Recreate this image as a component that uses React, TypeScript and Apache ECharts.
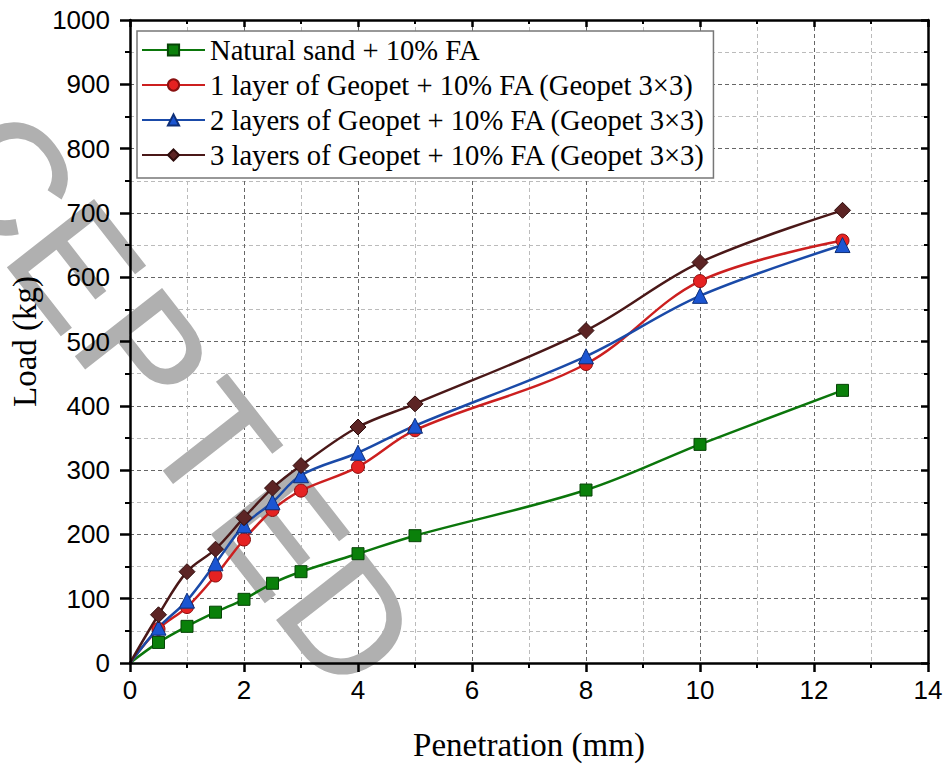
import React, { useEffect, useRef } from "react";
import * as echarts from "echarts";

const penetration = [0, 0.5, 1, 1.5, 2, 2.5, 3, 4, 5, 8, 10, 12.5];
const naturalSand = [0, 32, 57, 79, 99, 124, 142, 170, 198, 269, 340, 424];
const oneLayer = [0, 53, 87, 136, 192, 238, 268, 305, 362, 465, 594, 657];
const twoLayers = [0, 55, 97, 155, 214, 250, 292, 327, 369, 477, 571, 650];
const threeLayers = [0, 75, 142, 177, 226, 272, 307, 367, 403, 517, 623, 704];

const seriesNames = [
  "Natural sand + 10% FA",
  "1 layer of Geopet + 10% FA (Geopet 3×3)",
  "2 layers of Geopet + 10% FA (Geopet 3×3)",
  "3 layers of Geopet + 10% FA (Geopet 3×3)",
];
const xAxisTitle = "Penetration (mm)";
const yAxisTitle = "Load (kg)";
const watermarkLetters = ["C", "E", "P", "T", "E", "D"];

export default function App() {
  const ref = useRef<HTMLDivElement>(null);
  useEffect(() => {
    if (!ref.current) return;
    const chart = echarts.init(ref.current, undefined, { renderer: "svg" });
    const mk = (
      name: string,
      vals: number[],
      color: string,
      markColor: string,
      border: string,
      symbol: string,
      size: number
    ) => ({
      name,
      type: "line",
      smooth: 0.35,
      z: 2,
      data: penetration.map((x, i) => [x, vals[i]]),
      symbol,
      symbolSize: (_v: any, p: any) => (p && p.dataIndex === 0 ? 0 : size),
      lineStyle: { color, width: 2.5 },
      itemStyle: { color: markColor, borderColor: border, borderWidth: 1 },
      xAxisIndex: 0,
      yAxisIndex: 0,
    });
    const labelFont = { fontFamily: "Liberation Sans", fontSize: 26, color: "#000" };
    const black = { color: "#000", width: 2.5 };

    // watermark: letters laid along a diagonal (start point, step per letter)
    const wmStart = [8, 176];
    const wmStep = [68, 89];
    const wmRot = (-52 * Math.PI) / 180;
    const graphic = watermarkLetters.map((ch, i) => ({
      type: "text",
      x: wmStart[0] + wmStep[0] * i,
      y: wmStart[1] + wmStep[1] * i,
      rotation: wmRot,
      z: 1,
      silent: true,
      style: {
        text: ch,
        fontSize: 158,
        fontFamily: "Liberation Sans",
        fill: "#b0b0b0",
        stroke: "#b0b0b0",
        lineWidth: 2,
        textAlign: "center",
        textVerticalAlign: "middle",
        align: "center",
        verticalAlign: "middle",
      },
    }));

    chart.setOption({
      animation: false,
      backgroundColor: "#fff",
      grid: { left: 130, right: 18, top: 20, bottom: 102 },
      legend: {
        left: 137,
        top: 31,
        orient: "vertical",
        backgroundColor: "#fff",
        borderColor: "#777",
        borderWidth: 1.5,
        padding: [4, 8, 8, 4],
        itemGap: 5,
        itemWidth: 63,
        itemHeight: 14,
        textStyle: { fontFamily: "Liberation Serif", fontSize: 28.6, color: "#000", lineHeight: 30 },
        data: seriesNames,
      },
      graphic,
      xAxis: [
        {
          type: "value",
          position: "bottom",
          min: 0,
          max: 14,
          interval: 2,
          z: 3,
          axisLine: { show: true, onZero: false, lineStyle: black },
          axisTick: { show: true, inside: false, length: 9, lineStyle: black },
          minorTick: { show: true, splitNumber: 2, length: 5, lineStyle: { color: "#000", width: 2 } },
          axisLabel: { ...labelFont, margin: 14, formatter: (v: number) => String(v) },
          splitLine: { show: false },
          name: xAxisTitle,
          nameLocation: "middle",
          nameGap: 65,
          nameTextStyle: { fontFamily: "Liberation Serif", fontSize: 33, color: "#000" },
        },
        {
          type: "value",
          position: "top",
          min: 0,
          max: 14,
          interval: 2,
          z: 0,
          axisLine: { show: true, onZero: false, lineStyle: black },
          axisTick: { show: true, inside: true, length: 7, lineStyle: black },
          minorTick: { show: true, splitNumber: 2, length: 4, lineStyle: { color: "#000", width: 2 } },
          axisLabel: { show: false },
          splitLine: { show: true, lineStyle: { type: [4, 3], color: "#666", width: 1 } },
          minorSplitLine: { show: true, lineStyle: { type: [4, 3], color: "#bbb", width: 1 } },
        },
      ],
      yAxis: [
        {
          type: "value",
          position: "left",
          min: 0,
          max: 1000,
          interval: 100,
          z: 3,
          axisLine: { show: true, onZero: false, lineStyle: black },
          axisTick: { show: true, inside: false, length: 10, lineStyle: black },
          minorTick: { show: true, splitNumber: 2, length: 5, lineStyle: { color: "#000", width: 2 } },
          axisLabel: { ...labelFont, margin: 20, formatter: (v: number) => String(v) },
          splitLine: { show: false },
          name: yAxisTitle,
          nameLocation: "middle",
          nameGap: 89,
          nameTextStyle: { fontFamily: "Liberation Serif", fontSize: 33, color: "#000" },
        },
        {
          type: "value",
          position: "right",
          min: 0,
          max: 1000,
          interval: 100,
          z: 0,
          axisLine: { show: true, onZero: false, lineStyle: black },
          axisTick: { show: true, inside: true, length: 7, lineStyle: black },
          minorTick: { show: true, splitNumber: 2, length: 4, lineStyle: { color: "#000", width: 2 } },
          axisLabel: { show: false },
          splitLine: { show: true, lineStyle: { type: [4, 3], color: "#666", width: 1 } },
          minorSplitLine: { show: true, lineStyle: { type: [4, 3], color: "#bbb", width: 1 } },
        },
      ],
      series: [
        mk(seriesNames[0], naturalSand, "#0b760b", "#0a800a", "#064406", "rect", 12),
        mk(seriesNames[1], oneLayer, "#cc1f1f", "#e52222", "#8a1010", "circle", 13),
        mk(seriesNames[2], twoLayers, "#1a4aa8", "#1b55d2", "#0e2f78", "triangle", 15),
        mk(seriesNames[3], threeLayers, "#4a1818", "#5c2424", "#2e0c0c", "diamond", 16),
      ],
    });
    return () => chart.dispose();
  }, []);
  return (
    <div
      ref={ref}
      style={{ position: "fixed", left: 0, top: 0, width: 946, height: 766, background: "#fff" }}
    />
  );
}
